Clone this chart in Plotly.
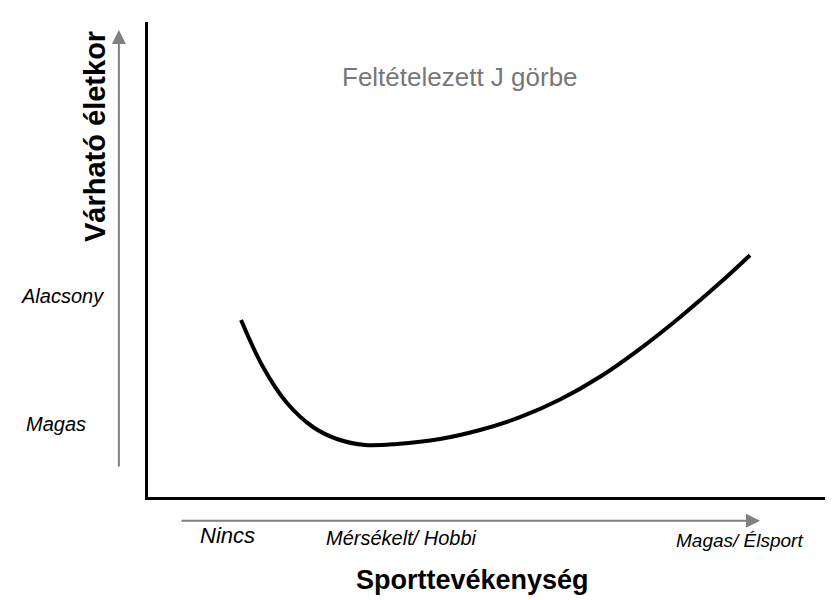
import plotly.graph_objects as go

# J-curve (x: sport activity 0-100, y: axis units 0-100)
curve_x = [13.74, 16.99, 20.53, 24.37, 27.92, 32.05, 36.78, 43.13, 49.04, 54.95, 60.86, 66.77, 72.67, 78.58, 84.49, 88.92]
curve_y = [37.26, 27.37, 19.79, 14.74, 12.21, 10.95, 11.16, 12.21, 14.11, 16.80, 20.51, 25.31, 31.20, 37.85, 45.09, 50.91]

x_tick_labels = ["Nincs", "Mérsékelt/ Hobbi", "Magas/ Élsport"]
x_tick_pos = [0.117, 0.374, 0.873]
x_tick_ypos = [-0.082, -0.086, -0.091]
x_tick_sizes = [22, 20, 19]
y_tick_labels = ["Alacsony", "Magas"]
y_tick_pos = [0.423, 0.154]
y_tick_xpos = [-0.127, -0.136]

title_text = "Feltételezett J görbe"
x_title = "Sporttevékenység"
y_title = "Várható életkor"

FONT = "Arial, Liberation Sans, sans-serif"

fig = go.Figure()
fig.add_trace(go.Scatter(
    x=curve_x, y=curve_y, mode="lines",
    line=dict(color="black", width=4, shape="spline", smoothing=1.0),
    hoverinfo="skip", showlegend=False,
))

common = dict(xref="paper", yref="paper", showarrow=False, xanchor="center", yanchor="middle")
annotations = []
for lbl, xp, yp, fs in zip(x_tick_labels, x_tick_pos, x_tick_ypos, x_tick_sizes):
    annotations.append(dict(x=xp, y=yp, text=f"<i>{lbl}</i>",
                            font=dict(family=FONT, size=fs, color="black"), **common))
for lbl, yp, xp in zip(y_tick_labels, y_tick_pos, y_tick_xpos):
    annotations.append(dict(x=xp, y=yp, text=f"<i>{lbl}</i>",
                            font=dict(family=FONT, size=20, color="black"), **common))
annotations.append(dict(x=0.461, y=0.884, text=title_text,
                        font=dict(family=FONT, size=26, color="#777777"), **common))
annotations.append(dict(x=-0.0783, y=0.760, text=f"<b>{y_title}</b>", textangle=-90,
                        font=dict(family=FONT, size=29, color="black"), **common))
annotations.append(dict(x=0.480, y=-0.175, text=f"<b>{x_title}</b>",
                        font=dict(family=FONT, size=27, color="black"), **common))
# gray arrows (head position in paper coords, tail offset in pixels)
annotations.append(dict(x=-0.043, y=0.983, xref="paper", yref="paper", ax=0, ay=438,
                        text="", showarrow=True, arrowhead=2, arrowsize=1.4, arrowwidth=2,
                        arrowcolor="#808080"))
annotations.append(dict(x=0.904, y=-0.050, xref="paper", yref="paper", ax=-580, ay=0,
                        text="", showarrow=True, arrowhead=2, arrowsize=1.4, arrowwidth=2,
                        arrowcolor="#808080"))

fig.update_layout(
    width=836, height=600,
    margin=dict(l=140, r=19, t=14, b=111),
    paper_bgcolor="white", plot_bgcolor="white",
    annotations=annotations,
    xaxis=dict(range=[0, 100], showgrid=False, zeroline=False, showticklabels=False, ticks="",
               showline=True, linecolor="black", linewidth=3, fixedrange=True),
    yaxis=dict(range=[0, 100], showgrid=False, zeroline=False, showticklabels=False, ticks="",
               showline=True, linecolor="black", linewidth=3, fixedrange=True),
)

fig.write_html("out.html")
